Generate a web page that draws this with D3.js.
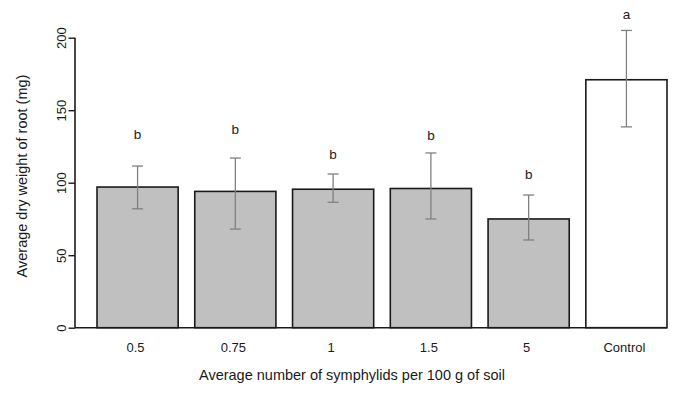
<script src="https://d3js.org/d3.v7.min.js"></script>

<style>
  body { margin: 0; background: #fff; }
  text { font-family: "Liberation Sans", Arial, sans-serif; fill: #1a1a1a; }
</style>

<body>
  <div id="vis"></div>
</body>

<script>
  // Data
  let categories = ['0.5', '0.75', '1', '1.5', '5', 'Control']
  let means = [97, 94, 95.5, 96, 75, 171]
  let errLow = [82, 68, 86.5, 75, 60.5, 138.5]
  let errHigh = [111.5, 117, 106, 120.5, 91.5, 205]
  let letters = ['b', 'b', 'b', 'b', 'b', 'a']
  let letterAt = [133.5, 137, 119.5, 133, 106, 216]
  let fills = ['#c0c0c0', '#c0c0c0', '#c0c0c0', '#c0c0c0', '#c0c0c0', '#ffffff']
  let yTicks = [0, 50, 100, 150, 200]

  const width = 683
  const height = 395

  let svg = d3.select('#vis')
    .append('svg')
    .attr('width', width)
    .attr('height', height)

  let x = d3.scaleBand()
    .domain(categories)
    .range([97, 667])
    .paddingInner(0.17)
    .paddingOuter(0)

  let y = d3.scaleLinear()
    .domain([0, 200])
    .range([327.7, 37.7])

  // bars
  svg.selectAll('rect.bar')
    .data(categories)
    .enter()
    .append('rect')
    .attr('class', 'bar')
    .attr('x', d => x(d))
    .attr('y', (d, i) => y(means[i]))
    .attr('width', x.bandwidth())
    .attr('height', (d, i) => y(0) - y(means[i]))
    .attr('fill', (d, i) => fills[i])
    .attr('stroke', '#1a1a1a')
    .attr('stroke-width', 1.6)

  // baseline under the bars
  svg.append('line')
    .attr('x1', 75).attr('x2', 667)
    .attr('y1', y(0)).attr('y2', y(0))
    .attr('stroke', '#1a1a1a')
    .attr('stroke-width', 1.6)

  // error bars
  let eb = svg.append('g')
    .attr('stroke', '#808080')
    .attr('stroke-width', 1.3)
  categories.forEach(function (c, i) {
    let cx = x(c) + x.bandwidth() / 2
    eb.append('line').attr('x1', cx).attr('x2', cx).attr('y1', y(errLow[i])).attr('y2', y(errHigh[i]))
    eb.append('line').attr('x1', cx - 5.5).attr('x2', cx + 5.5).attr('y1', y(errLow[i])).attr('y2', y(errLow[i]))
    eb.append('line').attr('x1', cx - 5.5).attr('x2', cx + 5.5).attr('y1', y(errHigh[i])).attr('y2', y(errHigh[i]))
  })

  // significance letters
  svg.selectAll('text.letter')
    .data(letters)
    .enter()
    .append('text')
    .attr('class', 'letter')
    .attr('x', (d, i) => x(categories[i]) + x.bandwidth() / 2)
    .attr('y', (d, i) => y(letterAt[i]))
    .attr('dy', '0.35em')
    .attr('text-anchor', 'middle')
    .style('font-size', '13.5px')
    .text(d => d)

  // y axis
  let yAxis = svg.append('g')
    .attr('transform', 'translate(75,0)')
    .call(d3.axisLeft(y).tickValues(yTicks).tickSize(6.5).tickPadding(5))
  yAxis.select('.domain').attr('stroke', '#1a1a1a').attr('stroke-width', 1.6).attr('d', 'M0,' + y(200) + 'V' + y(0))
  yAxis.selectAll('.tick line').attr('stroke', '#1a1a1a').attr('stroke-width', 1.4)
  yAxis.selectAll('.tick text')
    .attr('x', null).attr('dy', null)
    .attr('transform', 'translate(-9,0) rotate(-90)')
    .attr('text-anchor', 'middle')
    .style('font-size', '13px')
    .style('font-family', '"Liberation Sans", Arial, sans-serif')
    .attr('fill', '#1a1a1a')

  // x tick labels (no tick marks, like the original)
  svg.selectAll('text.xlab')
    .data(categories)
    .enter()
    .append('text')
    .attr('class', 'xlab')
    .attr('x', d => x(d) + x.bandwidth() / 2 - 2)
    .attr('y', 351.5)
    .attr('text-anchor', 'middle')
    .style('font-size', '13px')
    .text(d => d)

  // axis titles
  svg.append('text')
    .attr('x', 352)
    .attr('y', 379.5)
    .attr('text-anchor', 'middle')
    .style('font-size', '14.5px')
    .text('Average number of symphylids per 100 g of soil')

  svg.append('text')
    .attr('transform', 'translate(27,176) rotate(-90)')
    .attr('text-anchor', 'middle')
    .style('font-size', '14.5px')
    .text('Average dry weight of root (mg)')
</script>
